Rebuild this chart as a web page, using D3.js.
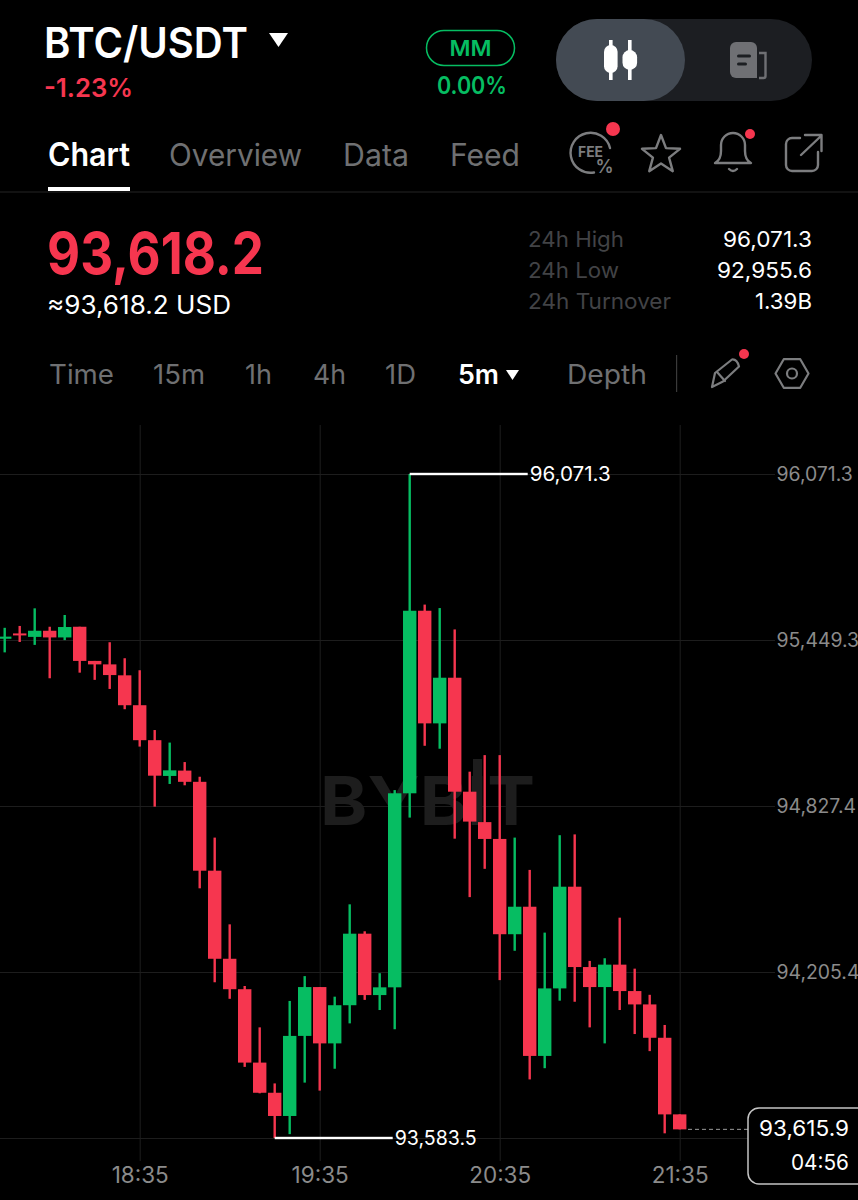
<!DOCTYPE html>
<html>
<head>
<meta charset="utf-8">
<title>BTC/USDT</title>
<script src="https://cdn.jsdelivr.net/npm/d3@7"></script>
<style>
	html, body { margin: 0; padding: 0; background: #000; }
	svg { display: block; font-family: Inter, Roboto, sans-serif; }
</style>
</head>
<body>
<main></main>
<script>
'use strict';

var times = ['17:50', '17:55', '18:00', '18:05', '18:10', '18:15', '18:20', '18:25', '18:30', '18:35',
	'18:40', '18:45', '18:50', '18:55', '19:00', '19:05', '19:10', '19:15', '19:20', '19:25',
	'19:30', '19:35', '19:40', '19:45', '19:50', '19:55', '20:00', '20:05', '20:10', '20:15',
	'20:20', '20:25', '20:30', '20:35', '20:40', '20:45', '20:50', '20:55', '21:00', '21:05',
	'21:10', '21:15', '21:20', '21:25', '21:30', '21:35'];
var opens = [95454, 95474, 95461, 95484, 95459, 95499, 95371, 95358, 95317, 95205,
	95074, 94940, 94960, 94918, 94585, 94255, 94141, 93866, 93753, 93666,
	93966, 94149, 93938, 94081, 94349, 94119, 94148, 94875, 95559, 95137,
	95308, 94881, 94767, 94704, 94347, 94450, 93891, 94144, 94525, 94224,
	94149, 94233, 94134, 94084, 93959, 93672];
var highs = [95495, 95502, 95568, 95499, 95543, 95499, 95371, 95441, 95381, 95336,
	95112, 95065, 94992, 94937, 94709, 94384, 94153, 93998, 93788, 94097,
	94190, 94149, 94113, 94459, 94358, 94201, 94887, 96071.3, 95582, 95569,
	95489, 94956, 95018, 95018, 94709, 94588, 94353, 94718, 94721, 94247,
	94257, 94409, 94218, 94120, 94007, 93672];
var lows = [95403, 95442, 95431, 95306, 95449, 95327, 95300, 95266, 95190, 95050,
	94825, 94910, 94905, 94519, 94167, 94105, 93850, 93751, 93583.5, 93598,
	93791, 93761, 93843, 94013, 94101, 94063, 93991, 94784, 95053, 95042,
	94705, 94486, 94592, 94175, 94285, 93803, 93845, 94098, 94094, 93998,
	93938, 94063, 93973, 93909, 93601, 93615.9];
var closes = [95462, 95468, 95484, 95459, 95498, 95371, 95358, 95318, 95205, 95074,
	94941, 94961, 94918, 94585, 94255, 94141, 93866, 93753, 93666, 93966,
	94149, 93938, 94081, 94349, 94119, 94148, 94875, 95559, 95137, 95308,
	94881, 94769, 94704, 94347, 94450, 93891, 94144, 94525, 94224, 94149,
	94233, 94134, 94084, 93959, 93672, 93615.9];

var gridPrices = [96071.3, 95449.3, 94827.4, 94205.4, 93583.5];
// the lowest label sits under the last price tag, so only the line is drawn for it
var priceTicks = [96071.3, 95449.3, 94827.4, 94205.4];
var timeTicks = ['18:35', '19:35', '20:35', '21:35'];
var highPrice = 96071.3;
var lowPrice = 93583.5;
var lastPrice = 93615.9;

var red = '#f6364f';
var green = '#06bd62';
var grey = '#6f7072';
var iconGrey = '#7c7d7f';
var dim = '#424346';
var axisGrey = '#8b8b8b';

var candles = times.map(function (t, i) {
	return { time: t, open: opens[i], high: highs[i], low: lows[i], close: closes[i] };
});

var svg = d3.select('main').append('svg')
	.attr('width', 858)
	.attr('height', 1200)
	.attr('viewBox', '0 0 858 1200');

function label(parent, txt, x, y, size, fill, opts) {
	opts = opts || {};
	var t = parent.append('text')
		.attr('x', x)
		.attr('y', y)
		.attr('font-size', size)
		.attr('fill', fill)
		.attr('font-weight', opts.weight || 400)
		.attr('text-anchor', opts.anchor || 'start')
		.text(txt);
	if (opts.width) {
		t.attr('textLength', opts.width).attr('lengthAdjust', 'spacingAndGlyphs');
	}
	return t;
}

function drawHeader() {
	var g = svg.append('g');
	label(g, 'BTC/USDT', 44, 58, 43, '#fff', { weight: 600, width: 204 });
	g.append('path').attr('d', 'M269 33H288L278.5 47Z').attr('fill', '#fff');
	label(g, '-1.23%', 44, 97, 26, red, { weight: 600, width: 89 });

	g.append('rect').attr('x', 426.5).attr('y', 30.5).attr('width', 88).attr('height', 35).attr('rx', 17.5)
		.attr('fill', 'none').attr('stroke', green).attr('stroke-width', 1.5);
	label(g, 'MM', 470.5, 56, 22, green, { weight: 600, anchor: 'middle', width: 42 });
	label(g, '0.00%', 437, 94, 24, green, { weight: 600, width: 70 });

	g.append('rect').attr('x', 556).attr('y', 19).attr('width', 256).attr('height', 82).attr('rx', 41).attr('fill', '#1c1e22');
	g.append('rect').attr('x', 556).attr('y', 19).attr('width', 129).attr('height', 82).attr('rx', 41).attr('fill', '#434a53');
	// toggle icon: two small candles
	g.append('rect').attr('x', 609).attr('y', 40).attr('width', 3.6).attr('height', 40).attr('fill', '#fff');
	g.append('rect').attr('x', 604).attr('y', 45).attr('width', 13.6).attr('height', 28).attr('rx', 6.8).attr('fill', '#fff');
	g.append('rect').attr('x', 628).attr('y', 40).attr('width', 3.6).attr('height', 40).attr('fill', '#fff');
	g.append('rect').attr('x', 622.5).attr('y', 50).attr('width', 14.6).attr('height', 20).attr('rx', 7.3).attr('fill', '#fff');
	// toggle icon: news page
	g.append('path')
		.attr('d', 'M730 48a6 6 0 0 1 6-6h15a6 6 0 0 1 6 6v30h-21a6 6 0 0 1-6-6Z')
		.attr('fill', '#6f7074');
	g.append('path').attr('d', 'M759 53h6.5v23a2 2 0 0 1-2 2h-4.5')
		.attr('fill', 'none').attr('stroke', '#6f7074').attr('stroke-width', 2.4);
	g.append('rect').attr('x', 737).attr('y', 54.5).attr('width', 14).attr('height', 3).attr('rx', 1.5).attr('fill', '#1c1e22');
	g.append('rect').attr('x', 737).attr('y', 62.5).attr('width', 10).attr('height', 3).attr('rx', 1.5).attr('fill', '#1c1e22');
}

function drawTabs() {
	var g = svg.append('g');
	label(g, 'Chart', 48, 166, 32, '#fff', { weight: 600, width: 82 });
	label(g, 'Overview', 169, 166, 31, grey, { width: 133 });
	label(g, 'Data', 343, 166, 31, grey, { width: 66 });
	label(g, 'Feed', 450, 166, 31, grey, { width: 70 });
	g.append('rect').attr('x', 48).attr('y', 187).attr('width', 82).attr('height', 4).attr('fill', '#fff');
	g.append('rect').attr('x', 0).attr('y', 191.5).attr('width', 858).attr('height', 1).attr('fill', '#242424');

	var icon = g.append('g').attr('fill', 'none').attr('stroke', iconGrey).attr('stroke-width', 2.4)
		.attr('stroke-linecap', 'round').attr('stroke-linejoin', 'round');
	// fee ring, open at the lower right for the percent sign
	icon.append('path').attr('d', 'M610 148A20 20 0 1 0 594 172.5');
	label(g, 'FEE', 590.5, 157, 14, iconGrey, { weight: 700, anchor: 'middle', width: 25 });
	label(g, '%', 604.5, 173, 18, iconGrey, { weight: 600, anchor: 'middle' });
	// star
	var star = d3.range(10).map(function (i) {
		var r = i % 2 ? 8.5 : 20;
		var a = -Math.PI / 2 + i * Math.PI / 5;
		return [661 + r * Math.cos(a), 155 + r * Math.sin(a)];
	});
	icon.append('path').attr('d', d3.line().curve(d3.curveLinearClosed)(star));
	// bell
	icon.append('path').attr('d', 'M715 163c4-2 6-6 6-12v-6a12 12 0 0 1 24 0v6c0 6 2 10 6 12Z');
	icon.append('path').attr('d', 'M729 169q4 4 8 0');
	// share
	icon.append('path').attr('d', 'M800 138H792a6 6 0 0 0-6 6V165a6 6 0 0 0 6 6H812a6 6 0 0 0 6-6V152');
	icon.append('path').attr('d', 'M801 155L821 136M805 135H821.5V151');

	g.append('circle').attr('cx', 613).attr('cy', 129).attr('r', 7).attr('fill', red);
	g.append('circle').attr('cx', 750).attr('cy', 134).attr('r', 5).attr('fill', red);
}

function drawPrice() {
	var g = svg.append('g');
	label(g, '93,618.2', 47, 274, 58, red, { weight: 700, width: 217 });
	label(g, '\u224893,618.2 USD', 47, 314, 25, '#fff', { width: 184 });
	label(g, '24h High', 528, 247, 22, dim, { width: 96 });
	label(g, '24h Low', 528, 278, 22, dim, { width: 91 });
	label(g, '24h Turnover', 528, 309, 22, dim, { width: 143 });
	label(g, '96,071.3', 812, 247, 22, '#fff', { anchor: 'end', width: 89 });
	label(g, '92,955.6', 812, 278, 22, '#fff', { anchor: 'end', width: 95 });
	label(g, '1.39B', 812, 309, 22, '#fff', { anchor: 'end', width: 57 });
}

function drawIntervals() {
	var g = svg.append('g');
	label(g, 'Time', 49, 384, 27, grey, { width: 65 });
	label(g, '15m', 153, 384, 27, grey, { width: 52 });
	label(g, '1h', 245, 384, 27, grey, { width: 27 });
	label(g, '4h', 313, 384, 27, grey, { width: 33 });
	label(g, '1D', 385, 384, 27, grey, { width: 31 });
	label(g, '5m', 458, 384, 27, '#fff', { weight: 600, width: 41 });
	g.append('path').attr('d', 'M506 370H519L512.5 380Z').attr('fill', '#fff');
	label(g, 'Depth', 567, 384, 27, grey, { width: 80 });
	g.append('rect').attr('x', 676).attr('y', 355).attr('width', 1.2).attr('height', 37).attr('fill', '#3a3a3a');

	var icon = g.append('g').attr('fill', 'none').attr('stroke', iconGrey).attr('stroke-width', 2.2)
		.attr('stroke-linejoin', 'round').attr('stroke-linecap', 'round');
	// pencil
	icon.append('path').attr('d', 'M712 387L715 373L732 359.5Q737 359 739 366.5L723 381.5Z');
	icon.append('path').attr('d', 'M717 372L725 381');
	// hexagon nut, points to the left and right
	var hex = d3.range(6).map(function (i) {
		var a = i * Math.PI / 3;
		return [792 + 16.5 * Math.cos(a), 373.5 + 16.5 * Math.sin(a)];
	});
	icon.append('path').attr('d', d3.line().curve(d3.curveLinearClosed)(hex));
	icon.append('circle').attr('cx', 792).attr('cy', 373.5).attr('r', 5);
	g.append('circle').attr('cx', 744).attr('cy', 354).attr('r', 5).attr('fill', red);
}

function drawChart() {
	var y = d3.scaleLinear().domain([lowPrice, highPrice]).range([1138, 474]);
	var x = d3.scalePoint().domain(times).range([4.7, 679.7]);
	var bodyWidth = 13.4;
	var wickWidth = 2.4;
	var fmt = d3.format(',.1f');

	// grid lines come from axes with long ticks and no labels
	svg.append('g')
		.attr('transform', 'translate(775,0)')
		.call(d3.axisLeft(y).tickValues(gridPrices).tickSize(775).tickFormat(''))
		.call(function (g) {
			g.select('.domain').remove();
			g.selectAll('line').attr('stroke', '#1d1d1d');
		});
	svg.append('g')
		.attr('transform', 'translate(0,1161)')
		.call(d3.axisTop(x).tickValues(timeTicks).tickSize(736).tickFormat(''))
		.call(function (g) {
			g.select('.domain').remove();
			g.selectAll('line').attr('stroke', '#1d1d1d');
		});

	label(svg, 'BYBIT', 320, 825, 68, '#1d1d1d', { weight: 700, width: 215 });
	svg.append('rect').attr('x', 473).attr('y', 759).attr('width', 9).attr('height', 66).attr('fill', '#1d1d1d');

	var candle = svg.append('g')
		.selectAll('g')
		.data(candles)
		.join('g')
		.attr('fill', function (d) { return d.close >= d.open ? green : red; });
	candle.append('rect')
		.attr('x', function (d) { return x(d.time) - wickWidth / 2; })
		.attr('width', wickWidth)
		.attr('y', function (d) { return y(d.high); })
		.attr('height', function (d) { return y(d.low) - y(d.high); });
	candle.append('rect')
		.attr('x', function (d) { return x(d.time) - bodyWidth / 2; })
		.attr('width', bodyWidth)
		.attr('y', function (d) { return y(Math.max(d.open, d.close)); })
		.attr('height', function (d) { return Math.max(2, Math.abs(y(d.open) - y(d.close))); });

	var yAxis = svg.append('g')
		.attr('transform', 'translate(776.5,0)')
		.call(d3.axisRight(y).tickValues(priceTicks).tickSize(0).tickPadding(0).tickFormat(fmt));
	yAxis.select('.domain').remove();
	yAxis.selectAll('text')
		.attr('font-family', 'Inter, Roboto, sans-serif')
		.attr('font-size', 19.4)
		.attr('fill', axisGrey);

	var xAxis = svg.append('g')
		.attr('transform', 'translate(0,1167.5)')
		.call(d3.axisBottom(x).tickValues(timeTicks).tickSize(0).tickPadding(0));
	xAxis.select('.domain').remove();
	xAxis.selectAll('text')
		.attr('font-family', 'Inter, Roboto, sans-serif')
		.attr('font-size', 22.5)
		.attr('fill', axisGrey);

	// high and low markers
	var highX = x(times[highs.indexOf(highPrice)]);
	var lowX = x(times[lows.indexOf(lowPrice)]);
	svg.append('rect').attr('x', highX).attr('y', y(highPrice) - 1.2).attr('width', 118).attr('height', 2.4).attr('fill', '#fff');
	label(svg, fmt(highPrice), highX + 120, y(highPrice) + 7, 20, '#fff', { width: 81 });
	svg.append('rect').attr('x', lowX).attr('y', y(lowPrice) - 1.2).attr('width', 118).attr('height', 2.4).attr('fill', '#fff');
	label(svg, fmt(lowPrice), lowX + 120, y(lowPrice) + 7, 20, '#fff', { width: 82 });

	// last price tag
	svg.append('line')
		.attr('x1', 688).attr('x2', 748)
		.attr('y1', y(lastPrice)).attr('y2', y(lastPrice))
		.attr('stroke', '#9a9a9a').attr('stroke-dasharray', '4 3');
	svg.append('rect').attr('x', 748).attr('y', 1108).attr('width', 130).attr('height', 76).attr('rx', 11)
		.attr('fill', '#000').attr('stroke', '#c4c4c4').attr('stroke-width', 1.5);
	label(svg, fmt(lastPrice), 849, 1135.5, 22, '#fff', { anchor: 'end', width: 90 });
	label(svg, '04:56', 849, 1169.5, 22, '#fff', { anchor: 'end', width: 58 });
}

drawHeader();
drawTabs();
drawPrice();
drawIntervals();
drawChart();
</script>
</body>
</html>
